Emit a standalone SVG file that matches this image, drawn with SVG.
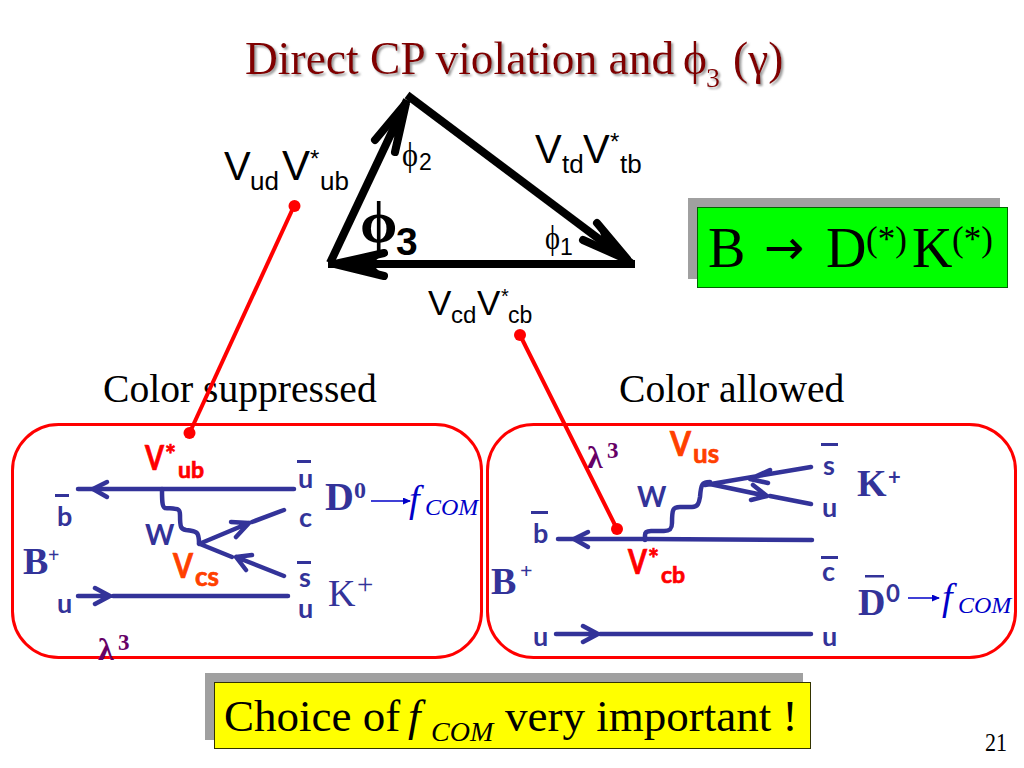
<svg xmlns="http://www.w3.org/2000/svg" width="1024" height="768" viewBox="0 0 1024 768">
<style>
text{white-space:pre}
.s{font-family:"Liberation Serif",serif}
.a{font-family:"Liberation Sans",Arial,sans-serif;fill:#000}
.h{font-family:Lato,"Noto Sans",sans-serif;font-weight:700}
.bl{fill:#333399}
.lab{fill:#333399;font-size:27px}
.hv{fill:#f00;stroke:#f00;stroke-width:.7}
.or{fill:#ff4000;stroke:#ff4000;stroke-width:.7}
.q{fill:none;stroke:#333399;stroke-width:4.500;stroke-linejoin:round;stroke-linecap:round}
.tri{fill:none;stroke:#000;stroke-width:8}
.chev{fill:none;stroke:#000;stroke-width:8;stroke-linecap:round;stroke-linejoin:miter}
.panel{fill:#fff;stroke:#f00;stroke-width:3}
.red{stroke:#f00;stroke-width:4;fill:none}
.dot{fill:#f00}
.fc{fill:#0000c8}
.lam{fill:#660066;font-weight:700}
</style>
<defs>
<marker id="ah" markerWidth="8" markerHeight="8" refX="7" refY="3.500" orient="auto" markerUnits="userSpaceOnUse"><path d="M0 0L8 3.500L0 7z" fill="#0000c8"/></marker>
<filter id="sh" x="-5%" y="-20%" width="110%" height="150%"><feDropShadow dx="2" dy="2" stdDeviation="1" flood-color="#808080" flood-opacity="0.8"/></filter>
</defs>
<g id="title"><text class="s" y="74" font-size="45.500" fill="#800000" filter="url(#sh)"><tspan x="245">Direct CP violation and</tspan><tspan x="683">ϕ</tspan><tspan x="706" y="87" font-size="28">3</tspan><tspan x="733" y="74">(γ)</tspan></text></g>

<g id="panel-left"><rect class="panel" x="12.500" y="424.500" width="469" height="233" rx="46"/></g>
<g id="panel-right"><rect class="panel" x="487.500" y="424.500" width="528" height="233" rx="46"/></g>

<g id="triangle">
<path class="tri" d="M328 264H635"/>
<path class="tri" d="M407 95L631 263"/>
<path class="tri" d="M330 263L407 100"/>
<path d="M329 264L385 252L372 264L385 277Z" fill="#000"/>
<path d="M408 98L388 140L396 136L395 152Z" fill="#000"/>
<path d="M630 262L597 223L604 245L583 240Z" fill="#000"/>
<path class="chev" d="M384 253L335 264L384 276M375 140L406 103L395 152M597 223L628 260L583 240"/>
<text class="a" font-size="40"><tspan x="224" y="180">V</tspan><tspan x="250" y="190" font-size="26">ud</tspan><tspan x="282" y="180" font-size="42">V</tspan><tspan x="310" y="167" font-size="24">*</tspan><tspan x="320" y="190" font-size="26">ub</tspan></text>
<text class="a" font-size="40"><tspan x="535" y="163">V</tspan><tspan x="562" y="173" font-size="26">td</tspan><tspan x="583" y="163">V</tspan><tspan x="610" y="150" font-size="24">*</tspan><tspan x="620" y="173" font-size="26">tb</tspan></text>
<text class="a" font-size="35"><tspan x="428" y="315">V</tspan><tspan x="451" y="323" font-size="24">cd</tspan><tspan x="477" y="315">V</tspan><tspan x="501" y="303" font-size="20">*</tspan><tspan x="508" y="323" font-size="23">cb</tspan></text>
<text class="s" font-size="33"><tspan x="402" y="166" textLength="16" lengthAdjust="spacingAndGlyphs">ϕ</tspan><tspan class="a" x="419" y="170" font-size="23">2</tspan></text>
<text class="s" font-size="33"><tspan x="545" y="249" textLength="15" lengthAdjust="spacingAndGlyphs">ϕ</tspan><tspan class="a" x="560" y="255" font-size="23">1</tspan></text>
<text class="s" font-size="60"><tspan x="360" y="242" font-weight="700">ϕ</tspan><tspan class="a" x="396" y="255" font-size="39" font-weight="700">3</tspan></text>
</g>

<g id="bdk">
<rect x="688" y="198" width="312" height="81" fill="#a0a0a0"/>
<rect x="697.500" y="207.500" width="310" height="80" fill="#00ff00" stroke="#006400" stroke-width="1"/>
<text class="s" y="267" font-size="56"><tspan x="708">B</tspan><tspan x="764" y="264" font-family="DejaVu Sans" font-size="48">→</tspan><tspan x="826" y="267">D</tspan><tspan x="866" y="251" font-size="35">(*)</tspan><tspan x="912" y="267">K</tspan><tspan x="952" y="251" font-size="35">(*)</tspan></text>
</g>

<g id="labels-top">
<text class="s" x="103" y="402" font-size="39.600">Color suppressed</text>
<text class="s" x="619" y="402" font-size="39.600">Color allowed</text>
</g>

<g id="diagram-left">
<path class="q" d="M78 489H294"/><path class="q" d="M107 482L93 489L107 497"/>
<path class="q" d="M162 489C162 500 162 507 165 508C178 509 180 508 180 515C180 528 181 529 186 530C197 531 199 532 199 543"/>
<path class="q" d="M199 544L249 523M231 522L249 523L236 537M252 522L284 510"/>
<path class="q" d="M200 544L232 557M284 576L236 557L252 555M236 557L246 570"/>
<path class="q" d="M78 596H109M95 588L110 596L95 604M113 596H288"/>
<rect class="bl" x="55" y="494" width="14" height="3"/>
<rect class="bl" x="297" y="460" width="14" height="3"/>
<rect class="bl" x="297" y="561" width="14" height="3"/>
<text class="h lab" x="57" y="526">b</text>
<text class="h lab" x="298" y="488">u</text>
<text class="h lab" x="299" y="527">c</text>
<text class="h lab" x="299" y="587">s</text>
<text class="h lab" x="298" y="618">u</text>
<text class="h lab" x="57" y="613">u</text>
<text class="h bl" x="145" y="545" font-size="28">W</text>
<text class="s bl" x="23" y="574" font-size="38" font-weight="700">B<tspan x="48" y="562" font-size="20">+</tspan></text>
<text class="s bl" x="325" y="510" font-size="40" font-weight="700">D<tspan x="354" y="498" font-size="24">0</tspan></text>
<text class="s bl" x="328" y="606" font-size="38">K<tspan x="357" y="594" font-size="29">+</tspan></text>
<path d="M371 501H410" stroke="#0000c8" stroke-width="1.500" marker-end="url(#ah)"/>
<text class="s fc" x="409" y="512" font-size="38" font-style="italic">f<tspan x="425" y="515" font-size="24">COM</tspan></text>
<text class="h hv" font-size="34"><tspan x="145" y="470" textLength="19" lengthAdjust="spacingAndGlyphs">V</tspan><tspan x="165" y="464" font-size="26">*</tspan><tspan x="178" y="478" font-size="23">ub</tspan></text>
<text class="h or" font-size="34"><tspan x="173" y="578" textLength="20" lengthAdjust="spacingAndGlyphs">V</tspan><tspan x="195" y="586" font-size="26">cs</tspan></text>
<text class="s lam" x="98" y="660" font-size="32">λ<tspan x="118" y="650" font-size="23">3</tspan></text>
</g>

<g id="diagram-right">
<path class="q" d="M558 539H646L812 540"/><path class="q" d="M588 532L574 539L588 547"/>
<path class="q" d="M645 540V535C645 532 647 531 651 531H664C670 531 672 529 672 523C672 509 673 507 680 507H692C698 507 699 503 700 497C701 484 702 482 710 482"/>
<path class="q" d="M811 467L705 485M770 470L750 479L768 483"/>
<path class="q" d="M705 483L767 496M753 485L767 496L751 500M770 496L811 504"/>
<path class="q" d="M556 634H597M583 626L598 634L583 642M600 634H811"/>
<rect class="bl" x="531" y="511" width="17" height="3"/>
<rect class="bl" x="821" y="443" width="17" height="3"/>
<rect class="bl" x="821" y="556" width="17" height="3"/>
<rect class="bl" x="865" y="575" width="19" height="2.500"/>
<text class="h lab" x="533" y="543">b</text>
<text class="h lab" x="533" y="646">u</text>
<text class="h lab" x="823" y="475">s</text>
<text class="h lab" x="822" y="517">u</text>
<text class="h lab" x="822" y="581">c</text>
<text class="h lab" x="822" y="646">u</text>
<text class="h bl" x="637" y="507" font-size="28">W</text>
<text class="s bl" x="491" y="594" font-size="38" font-weight="700">B<tspan x="520" y="578" font-size="22">+</tspan></text>
<text class="s bl" x="857" y="496" font-size="38" font-weight="700">K<tspan class="h" x="888" y="485" font-size="22">+</tspan></text>
<text class="s bl" x="858" y="615" font-size="38" font-weight="700">D<tspan class="h" x="886" y="602" font-size="24">0</tspan></text>
<path d="M908 598H939" stroke="#0000c8" stroke-width="1.500" marker-end="url(#ah)"/>
<text class="s fc" x="942" y="610" font-size="38" font-style="italic">f<tspan x="958" y="613" font-size="24">COM</tspan></text>
<text class="h hv" font-size="34"><tspan x="628" y="574" textLength="19" lengthAdjust="spacingAndGlyphs">V</tspan><tspan x="648" y="568" font-size="26">*</tspan><tspan x="661" y="583" font-size="23">cb</tspan></text>
<text class="h or" font-size="34"><tspan x="670" y="456" textLength="21" lengthAdjust="spacingAndGlyphs">V</tspan><tspan x="693" y="463" font-size="26">us</tspan></text>
<text class="s lam" x="587" y="468" font-size="32">λ<tspan x="607" y="458" font-size="23">3</tspan></text>
</g>

<g id="connectors">
<path class="red" d="M294 206L190 432"/><circle class="dot" cx="294.500" cy="206" r="6"/><circle class="dot" cx="189.500" cy="433" r="6"/>
<path class="red" d="M520 335L617 529"/><circle class="dot" cx="520" cy="335" r="6"/><circle class="dot" cx="617" cy="529" r="6"/>
</g>

<g id="choice">
<rect x="205" y="673" width="598" height="67" fill="#a0a0a0"/>
<rect x="214.500" y="682.500" width="596" height="66" fill="#ffff00" stroke="#333300" stroke-width="1"/>
<text class="s" y="731" font-size="45"><tspan x="224">Choice of</tspan><tspan x="408" font-style="italic">f</tspan><tspan x="431" y="741" font-size="28" font-style="italic">COM</tspan><tspan x="505" y="731">very important !</tspan></text>
</g>
<g id="page"><text class="s" x="985" y="751" font-size="26" textLength="22" lengthAdjust="spacingAndGlyphs">21</text></g>
</svg>
